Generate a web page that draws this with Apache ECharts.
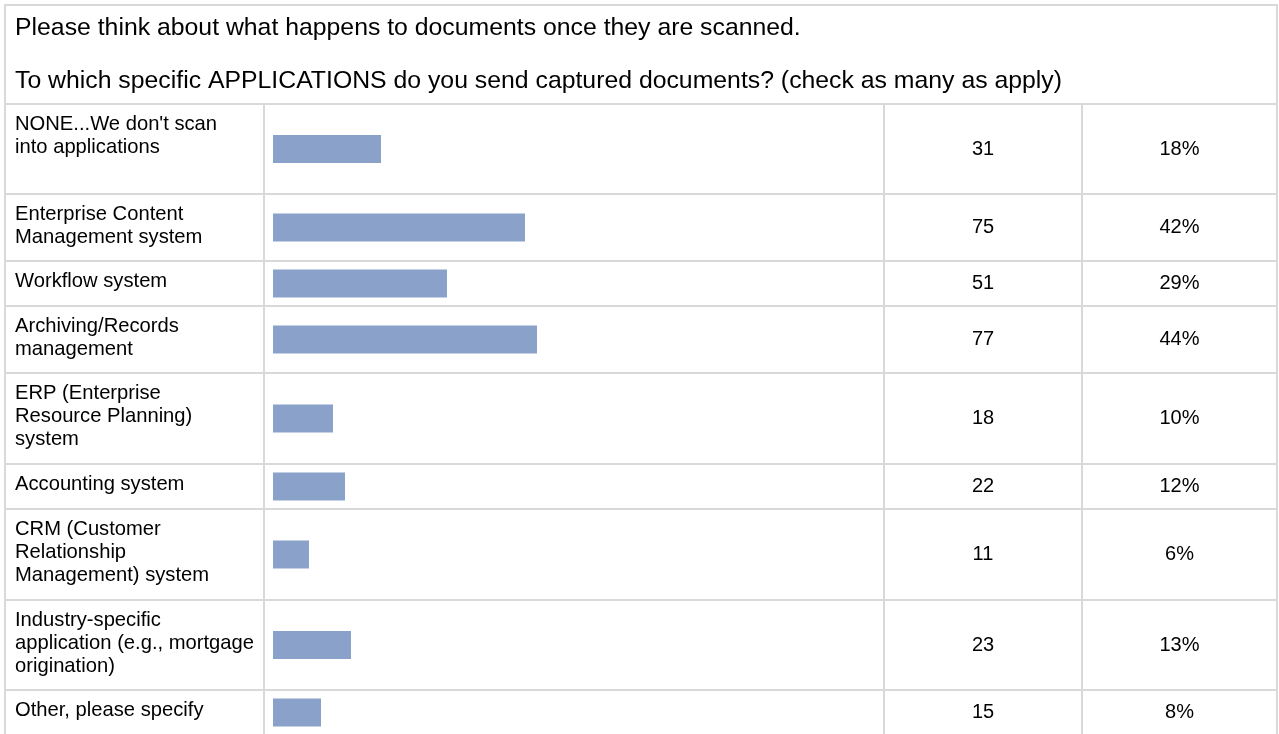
<!DOCTYPE html>
<html>
<head>
<meta charset="utf-8">
<script src="https://cdn.jsdelivr.net/npm/echarts@6/dist/echarts.min.js"></script>
<style>
html,body{margin:0;padding:0;background:#ffffff;}
#chart{width:1279px;height:734px;}
</style>
</head>
<body>
<div id="chart"></div>
<script>
// ---- data ----
var headerLines = [
  "Please think about what happens to documents once they are scanned.",
  "To which specific APPLICATIONS do you send captured documents? (check as many as apply)"
];
var categories = [
  "NONE...We don't scan\ninto applications",
  "Enterprise Content\nManagement system",
  "Workflow system",
  "Archiving/Records\nmanagement",
  "ERP (Enterprise\nResource Planning)\nsystem",
  "Accounting system",
  "CRM (Customer\nRelationship\nManagement) system",
  "Industry-specific\napplication (e.g., mortgage\norigination)",
  "Other, please specify"
];
var counts = [31, 75, 51, 77, 18, 22, 11, 23, 15];
var percents = [18, 42, 29, 44, 10, 12, 6, 13, 8];

// ---- layout ----
var rowHeights = [90, 67, 45, 67, 91, 45, 91, 90, 45];
var L = 5, R = 1277, T = 5, headerBottom = 104;
var col1 = 264, col2 = 884, col3 = 1082;
var barLeft = 273, barWidth = 600, barH = 28;
var lineColor = '#d9d9d9';
var fontFam = '"Liberation Sans", Arial, Helvetica, sans-serif';
var barColor = '#8aa1c9';

var chart = echarts.init(document.getElementById('chart'), null, {renderer: 'canvas'});

var rowTops = [];
var y = headerBottom;
for (var i = 0; i < rowHeights.length; i++) { rowTops.push(y); y += rowHeights[i]; }
var tableBottom = y;

var grids = [], xAxes = [], yAxes = [], series = [], graphics = [];

categories.forEach(function (cat, i) {
  var top = rowTops[i] + (rowHeights[i] - barH) / 2;
  grids.push({left: barLeft, width: barWidth, top: top, height: barH, containLabel: false});
  xAxes.push({type: 'value', gridIndex: i, min: 0, max: 100, show: false});
  yAxes.push({type: 'category', gridIndex: i, data: [cat], show: false});
  series.push({
    type: 'bar', xAxisIndex: i, yAxisIndex: i, data: [percents[i]],
    barWidth: barH, silent: true, animation: false,
    itemStyle: {color: barColor}
  });
});

function hline(yy, x1, x2) {
  return {type: 'line', silent: true, shape: {x1: x1, y1: yy, x2: x2, y2: yy},
          style: {stroke: lineColor, lineWidth: 2}};
}
function vline(xx, y1, y2) {
  return {type: 'line', silent: true, shape: {x1: xx, y1: y1, x2: xx, y2: y2},
          style: {stroke: lineColor, lineWidth: 2}};
}

// frame
graphics.push(hline(T, L - 1, R + 1));
graphics.push(hline(headerBottom, L - 1, R + 1));
graphics.push(vline(L, T - 1, tableBottom + 1));
graphics.push(vline(R, T - 1, tableBottom + 1));
graphics.push(vline(col1, headerBottom, tableBottom + 1));
graphics.push(vline(col2, headerBottom, tableBottom + 1));
graphics.push(vline(col3, headerBottom, tableBottom + 1));
rowTops.forEach(function (t, i) {
  graphics.push(hline(t + rowHeights[i], L - 1, R + 1));
});

// header text
var headerY = [28, 81];
headerLines.forEach(function (txt, i) {
  graphics.push({type: 'text', silent: true, style: {
    text: txt, x: 15, y: headerY[i], fill: '#000000',
    fontSize: 24.8, fontFamily: fontFam, textAlign: 'left', textVerticalAlign: 'middle'
  }});
});

// row texts
categories.forEach(function (cat, i) {
  var top = rowTops[i];
  var mid = top + rowHeights[i] / 2;
  graphics.push({type: 'text', silent: true, style: {
    text: cat, x: 15, y: top + 9, fill: '#000000', lineHeight: 23,
    fontSize: 20.2, fontFamily: fontFam, textAlign: 'left', textVerticalAlign: 'top'
  }});
  graphics.push({type: 'text', silent: true, style: {
    text: String(counts[i]), x: (col2 + col3) / 2, y: mid, fill: '#000000',
    fontSize: 20, fontFamily: fontFam, textAlign: 'center', textVerticalAlign: 'middle'
  }});
  graphics.push({type: 'text', silent: true, style: {
    text: percents[i] + '%', x: (col3 + R) / 2, y: mid, fill: '#000000',
    fontSize: 20, fontFamily: fontFam, textAlign: 'center', textVerticalAlign: 'middle'
  }});
});

chart.setOption({
  backgroundColor: '#ffffff',
  animation: false,
  grid: grids,
  xAxis: xAxes,
  yAxis: yAxes,
  series: series,
  graphic: {elements: graphics}
});
</script>
</body>
</html>
